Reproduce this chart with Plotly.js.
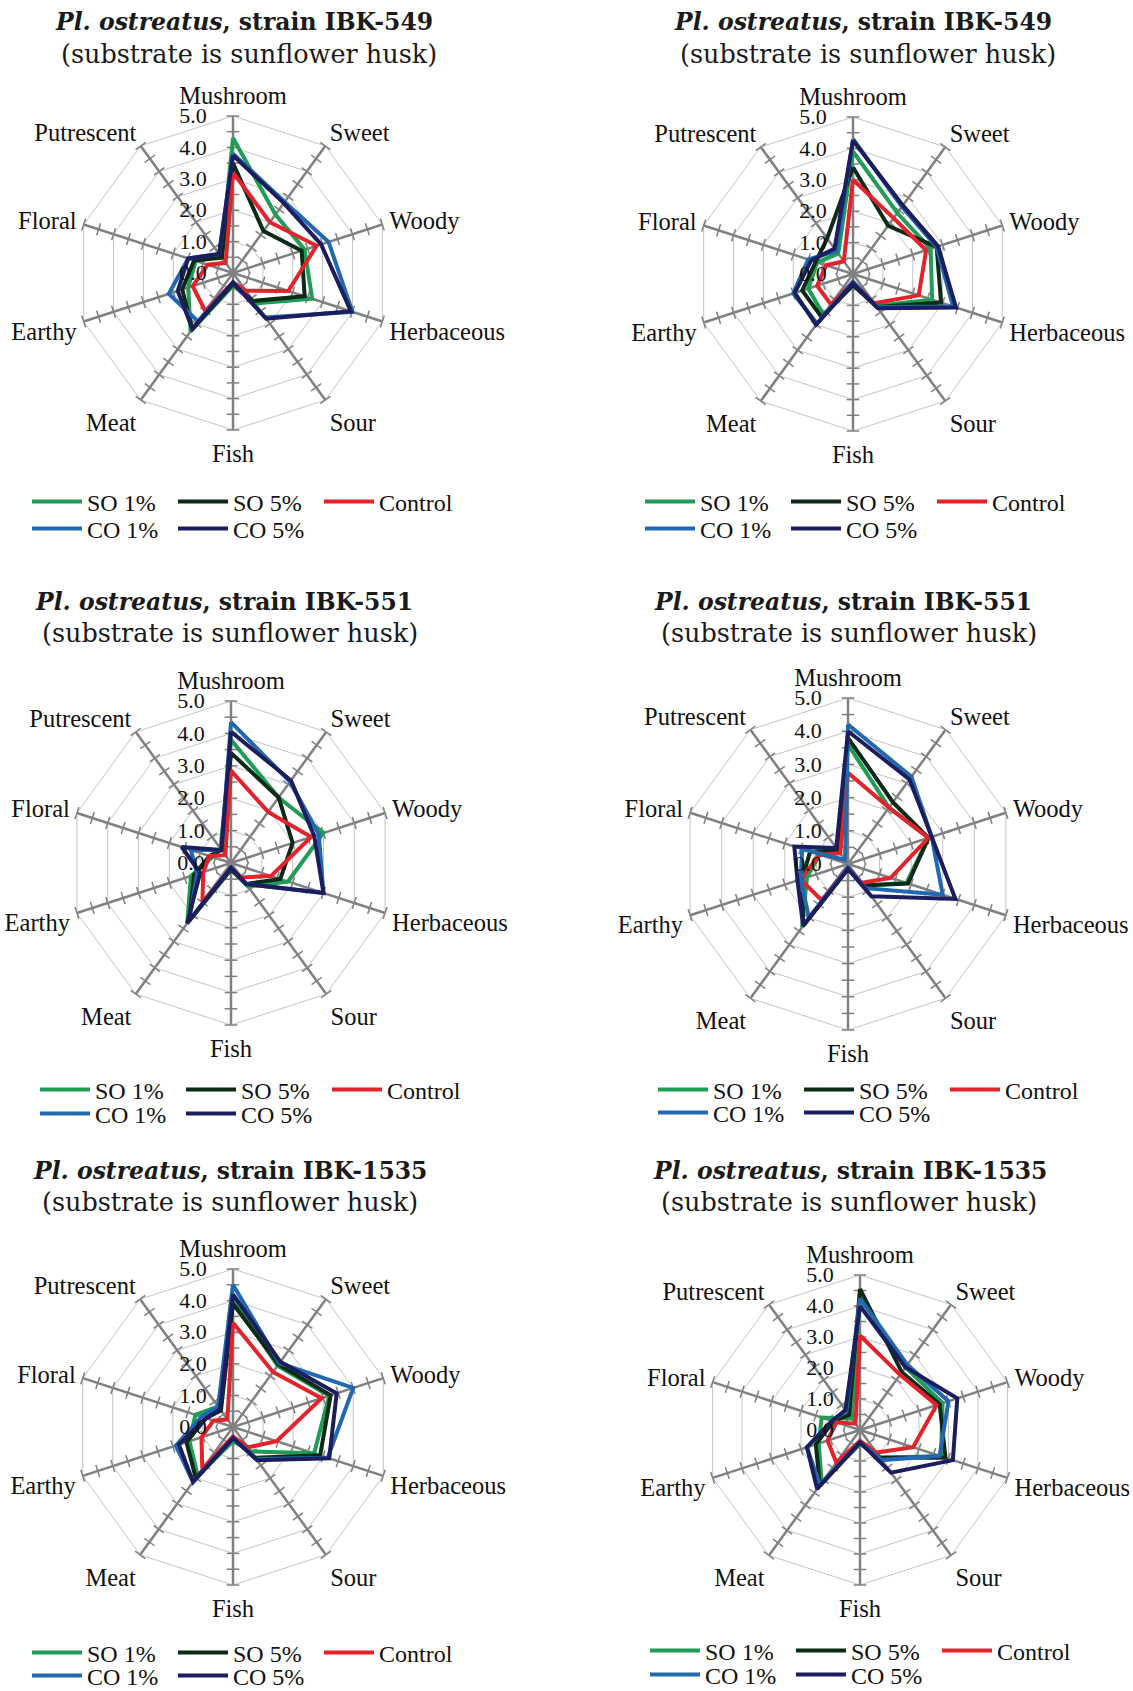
<!DOCTYPE html>
<html>
<head>
<meta charset="utf-8">
<script src="https://cdn.plot.ly/plotly-3.0.1.min.js"></script>
<style>
  html, body { margin: 0; padding: 0; background: #ffffff; }
  #chart { width: 1133px; height: 1691px; }
</style>
</head>
<body>
<div id="chart"></div>
<script>
// ---------------- DATA ----------------
const categories = ["Mushroom", "Sweet", "Woody", "Herbaceous", "Sour", "Fish", "Meat", "Earthy", "Floral", "Putrescent"];
const seriesNames = ["SO 1%", "SO 5%", "Control", "CO 1%", "CO 5%"];
const radialTicks = [0, 1, 2, 3, 4, 5];
const radialTickText = ["0.0", "1.0", "2.0", "3.0", "4.0", "5.0"];
const spokeTickValues = [0.5, 1, 1.5, 2, 2.5, 3, 3.5, 4, 4.5, 5];

const chartTitles = [
  "IBK-549", "IBK-549", "IBK-551", "IBK-551", "IBK-1535", "IBK-1535"
];
const subtitleText = "(substrate is sunflower husk)";

// chart 1: IBK-549 (left)
const c1_SO1     = [4.3, 2.3, 2.4, 2.65, 1.2, 0.4, 2.3, 1.5, 1.25, 0.65];
const c1_SO5     = [3.5, 1.65, 2.3, 2.4, 1.1, 0.35, 2.2, 1.7, 1.3, 0.6];
const c1_Control = [3.2, 2.0, 2.8, 1.85, 0.7, 0.3, 1.5, 1.35, 0.85, 0.4];
const c1_CO1     = [3.8, 2.8, 3.2, 4.0, 1.75, 0.3, 1.9, 2.15, 1.5, 0.75];
const c1_CO5     = [3.75, 2.75, 2.95, 3.95, 1.8, 0.3, 2.2, 1.85, 1.5, 0.75];

// chart 2: IBK-549 (right)
const c2_SO1     = [3.9, 2.4, 2.6, 2.65, 1.25, 0.35, 1.6, 1.5, 1.2, 0.8];
const c2_SO5     = [3.4, 1.9, 2.8, 2.95, 1.3, 0.35, 1.7, 1.7, 1.25, 1.4];
const c2_Control = [3.0, 2.2, 2.45, 2.2, 1.15, 0.25, 1.2, 1.2, 0.9, 0.5];
const c2_CO1     = [4.3, 2.65, 2.8, 3.35, 1.3, 0.25, 1.95, 2.0, 1.5, 0.9];
const c2_CO5     = [4.25, 2.7, 2.85, 3.45, 1.35, 0.3, 2.0, 1.95, 1.4, 1.0];

// chart 3: IBK-551 (left)
const c3_SO1     = [3.8, 2.5, 3.0, 1.85, 0.9, 0.2, 2.3, 1.3, 0.6, 0.55];
const c3_SO5     = [3.4, 2.5, 2.0, 1.6, 0.8, 0.2, 2.2, 1.2, 0.7, 0.5];
const c3_Control = [2.85, 1.95, 2.6, 1.3, 0.55, 0.15, 1.5, 0.9, 0.7, 0.3];
const c3_CO1     = [4.35, 3.1, 2.85, 3.0, 0.8, 0.15, 2.2, 1.1, 1.3, 0.5];
const c3_CO5     = [4.05, 3.15, 2.7, 3.0, 0.8, 0.15, 2.3, 1.0, 1.6, 0.5];

// chart 4: IBK-551 (right)
const c4_SO1     = [3.6, 2.1, 2.55, 1.85, 0.8, 0.15, 2.35, 1.3, 0.9, 0.45];
const c4_SO5     = [3.8, 2.3, 2.55, 1.9, 0.8, 0.15, 2.3, 1.45, 1.2, 0.5];
const c4_Control = [2.75, 2.1, 2.55, 1.35, 0.7, 0.1, 1.35, 1.5, 0.9, 0.4];
const c4_CO1     = [4.2, 3.25, 2.65, 3.0, 0.9, 0.1, 2.0, 1.5, 1.45, 0.15];
const c4_CO5     = [4.0, 3.15, 2.65, 3.4, 1.2, 0.15, 2.3, 1.6, 1.7, 0.6];

// chart 5: IBK-1535 (left)
const c5_SO1     = [4.05, 2.4, 3.2, 2.7, 0.95, 0.45, 1.9, 1.45, 1.25, 0.8];
const c5_SO5     = [3.9, 2.45, 3.25, 2.9, 1.2, 0.35, 2.0, 1.55, 0.9, 0.65];
const c5_Control = [3.3, 2.15, 2.95, 1.45, 0.8, 0.3, 1.65, 1.05, 0.65, 0.3];
const c5_CO1     = [4.5, 2.5, 4.0, 3.15, 1.25, 0.35, 2.15, 1.9, 1.05, 0.8];
const c5_CO5     = [4.2, 2.55, 3.45, 3.2, 1.3, 0.35, 2.15, 1.8, 0.9, 0.7];

// chart 6: IBK-1535 (right)
const c6_SO1     = [4.3, 2.5, 2.8, 2.75, 1.1, 0.45, 2.1, 1.4, 1.3, 0.45];
const c6_SO5     = [4.55, 2.3, 2.7, 2.9, 1.1, 0.4, 2.2, 1.5, 0.9, 0.6];
const c6_Control = [3.05, 2.2, 2.6, 1.8, 0.9, 0.35, 1.3, 1.1, 0.8, 0.25];
const c6_CO1     = [4.25, 2.6, 3.0, 2.7, 1.2, 0.4, 2.2, 1.8, 0.95, 0.75];
const c6_CO5     = [4.0, 2.5, 3.3, 3.15, 1.7, 0.4, 2.35, 1.8, 0.95, 0.8];

const chartSeries = [
  [c1_SO1, c1_SO5, c1_Control, c1_CO1, c1_CO5],
  [c2_SO1, c2_SO5, c2_Control, c2_CO1, c2_CO5],
  [c3_SO1, c3_SO5, c3_Control, c3_CO1, c3_CO5],
  [c4_SO1, c4_SO5, c4_Control, c4_CO1, c4_CO5],
  [c5_SO1, c5_SO5, c5_Control, c5_CO1, c5_CO5],
  [c6_SO1, c6_SO5, c6_Control, c6_CO1, c6_CO5]
];

// ---------------- STYLE / LAYOUT ----------------
const W = 1133, H = 1691;
const seriesColors = ["#1f9c55", "#0c2a18", "#e2232b", "#2268b0", "#1b1d5c"];
const serifFont = "Liberation Serif, Times New Roman, serif";
const titleFont = "DejaVu Serif, serif";

// panel geometry (pixels): centre and radius of each radar, title and legend anchors
const panels = [
  {cx: 233, cy: 273, r: 157, tx: 244, ty1: 22, sx: 249, ty2: 54, lx: 27, ly1: 502, ly2: 529},
  {cx: 853, cy: 274, r: 157, tx: 863, ty1: 22, sx: 868, ty2: 54, lx: 640, ly1: 502, ly2: 529},
  {cx: 231, cy: 863, r: 162, tx: 224, ty1: 602, sx: 230, ty2: 633, lx: 35, ly1: 1090, ly2: 1114},
  {cx: 848, cy: 864, r: 166, tx: 843, ty1: 602, sx: 849, ty2: 633, lx: 653, ly1: 1090, ly2: 1113},
  {cx: 233, cy: 1427, r: 158, tx: 230, ty1: 1171, sx: 230, ty2: 1202, lx: 27, ly1: 1653, ly2: 1676},
  {cx: 860, cy: 1430, r: 155, tx: 850, ty1: 1171, sx: 849, ty2: 1202, lx: 645, ly1: 1651, ly2: 1675}
];

const data = [];
const layout = {
  width: W, height: H,
  margin: {l: 0, r: 0, t: 0, b: 0, autoexpand: false},
  paper_bgcolor: "#ffffff",
  plot_bgcolor: "#ffffff",
  showlegend: true,
  annotations: []
};

function legendBox(xpx, ypx) {
  return {
    x: xpx / W, y: 1 - ypx / H, xref: "paper", yref: "paper",
    xanchor: "left", yanchor: "middle",
    orientation: "h",
    entrywidth: 81, entrywidthmode: "pixels",
    itemwidth: 50,
    font: {family: serifFont, size: 24, color: "#111111"},
    bgcolor: "rgba(0,0,0,0)", borderwidth: 0,
    traceorder: "normal"
  };
}

panels.forEach((p, k) => {
  const polarId = k === 0 ? "polar" : "polar" + (k + 1);
  const sub = polarId;
  const legA = k === 0 ? "legend" : "legend" + (2 * k + 1);
  const legB = "legend" + (2 * k + 2);

  layout[polarId] = {
    domain: {
      x: [(p.cx - p.r) / W, (p.cx + p.r) / W],
      y: [(H - p.cy - p.r) / H, (H - p.cy + p.r) / H]
    },
    bgcolor: "rgba(0,0,0,0)",
    gridshape: "linear",
    angularaxis: {
      type: "category",
      categoryarray: categories,
      direction: "clockwise",
      rotation: 90,
      showline: true,
      linecolor: "#c4c4c4",
      linewidth: 1,
      showgrid: true,
      gridcolor: "#808080",
      gridwidth: 2.5,
      ticks: "outside",
      ticklen: 2,
      tickcolor: "rgba(0,0,0,0)",
      tickfont: {family: serifFont, size: 24.5, color: "#111111"},
      layer: "below traces"
    },
    radialaxis: {
      range: [0, 5],
      tickvals: radialTicks,
      ticktext: radialTickText,
      angle: 90,
      tickangle: 90,
      side: "counterclockwise",
      showline: false,
      showgrid: true,
      gridcolor: "#c4c4c4",
      gridwidth: 1,
      ticks: "outside",
      ticklen: 18,
      tickcolor: "rgba(0,0,0,0)",
      tickfont: {family: serifFont, size: 22, color: "#111111"},
      layer: "above traces"
    }
  };

  // tick marks along every spoke (axis decoration)
  const tTheta = [], tR = [], tAng = [];
  categories.forEach((c, i) => {
    spokeTickValues.forEach(v => {
      tTheta.push(c); tR.push(v); tAng.push(i * 360 / categories.length);
    });
  });
  data.push({
    type: "scatterpolar", subplot: sub, mode: "markers",
    theta: tTheta, r: tR,
    marker: {symbol: "line-ew", size: 9, angle: tAng, color: "#808080",
             line: {color: "#808080", width: 1.5}},
    hoverinfo: "skip", showlegend: false
  });

  chartSeries[k].forEach((vals, s) => {
    data.push({
      type: "scatterpolar", subplot: sub, mode: "lines",
      name: seriesNames[s],
      theta: categories.concat([categories[0]]),
      r: vals.concat([vals[0]]),
      line: {color: seriesColors[s], width: 4},
      legend: s < 3 ? legA : legB,
      showlegend: true
    });
  });

  layout[legA] = legendBox(p.lx, p.ly1);
  layout[legB] = legendBox(p.lx, p.ly2);

  layout.annotations.push({
    xref: "paper", yref: "paper", x: p.tx / W, y: 1 - p.ty1 / H,
    xanchor: "center", yanchor: "middle", showarrow: false,
    text: "<b><i>Pl. ostreatus</i>, strain " + chartTitles[k] + "</b>",
    font: {family: titleFont, size: 23.5, color: "#1a1a1a"}
  });
  layout.annotations.push({
    xref: "paper", yref: "paper", x: p.sx / W, y: 1 - p.ty2 / H,
    xanchor: "center", yanchor: "middle", showarrow: false,
    text: subtitleText,
    font: {family: titleFont, size: 25.5, color: "#1a1a1a"}
  });
});

Plotly.newPlot("chart", data, layout, {staticPlot: true, displayModeBar: false});
</script>
</body>
</html>
